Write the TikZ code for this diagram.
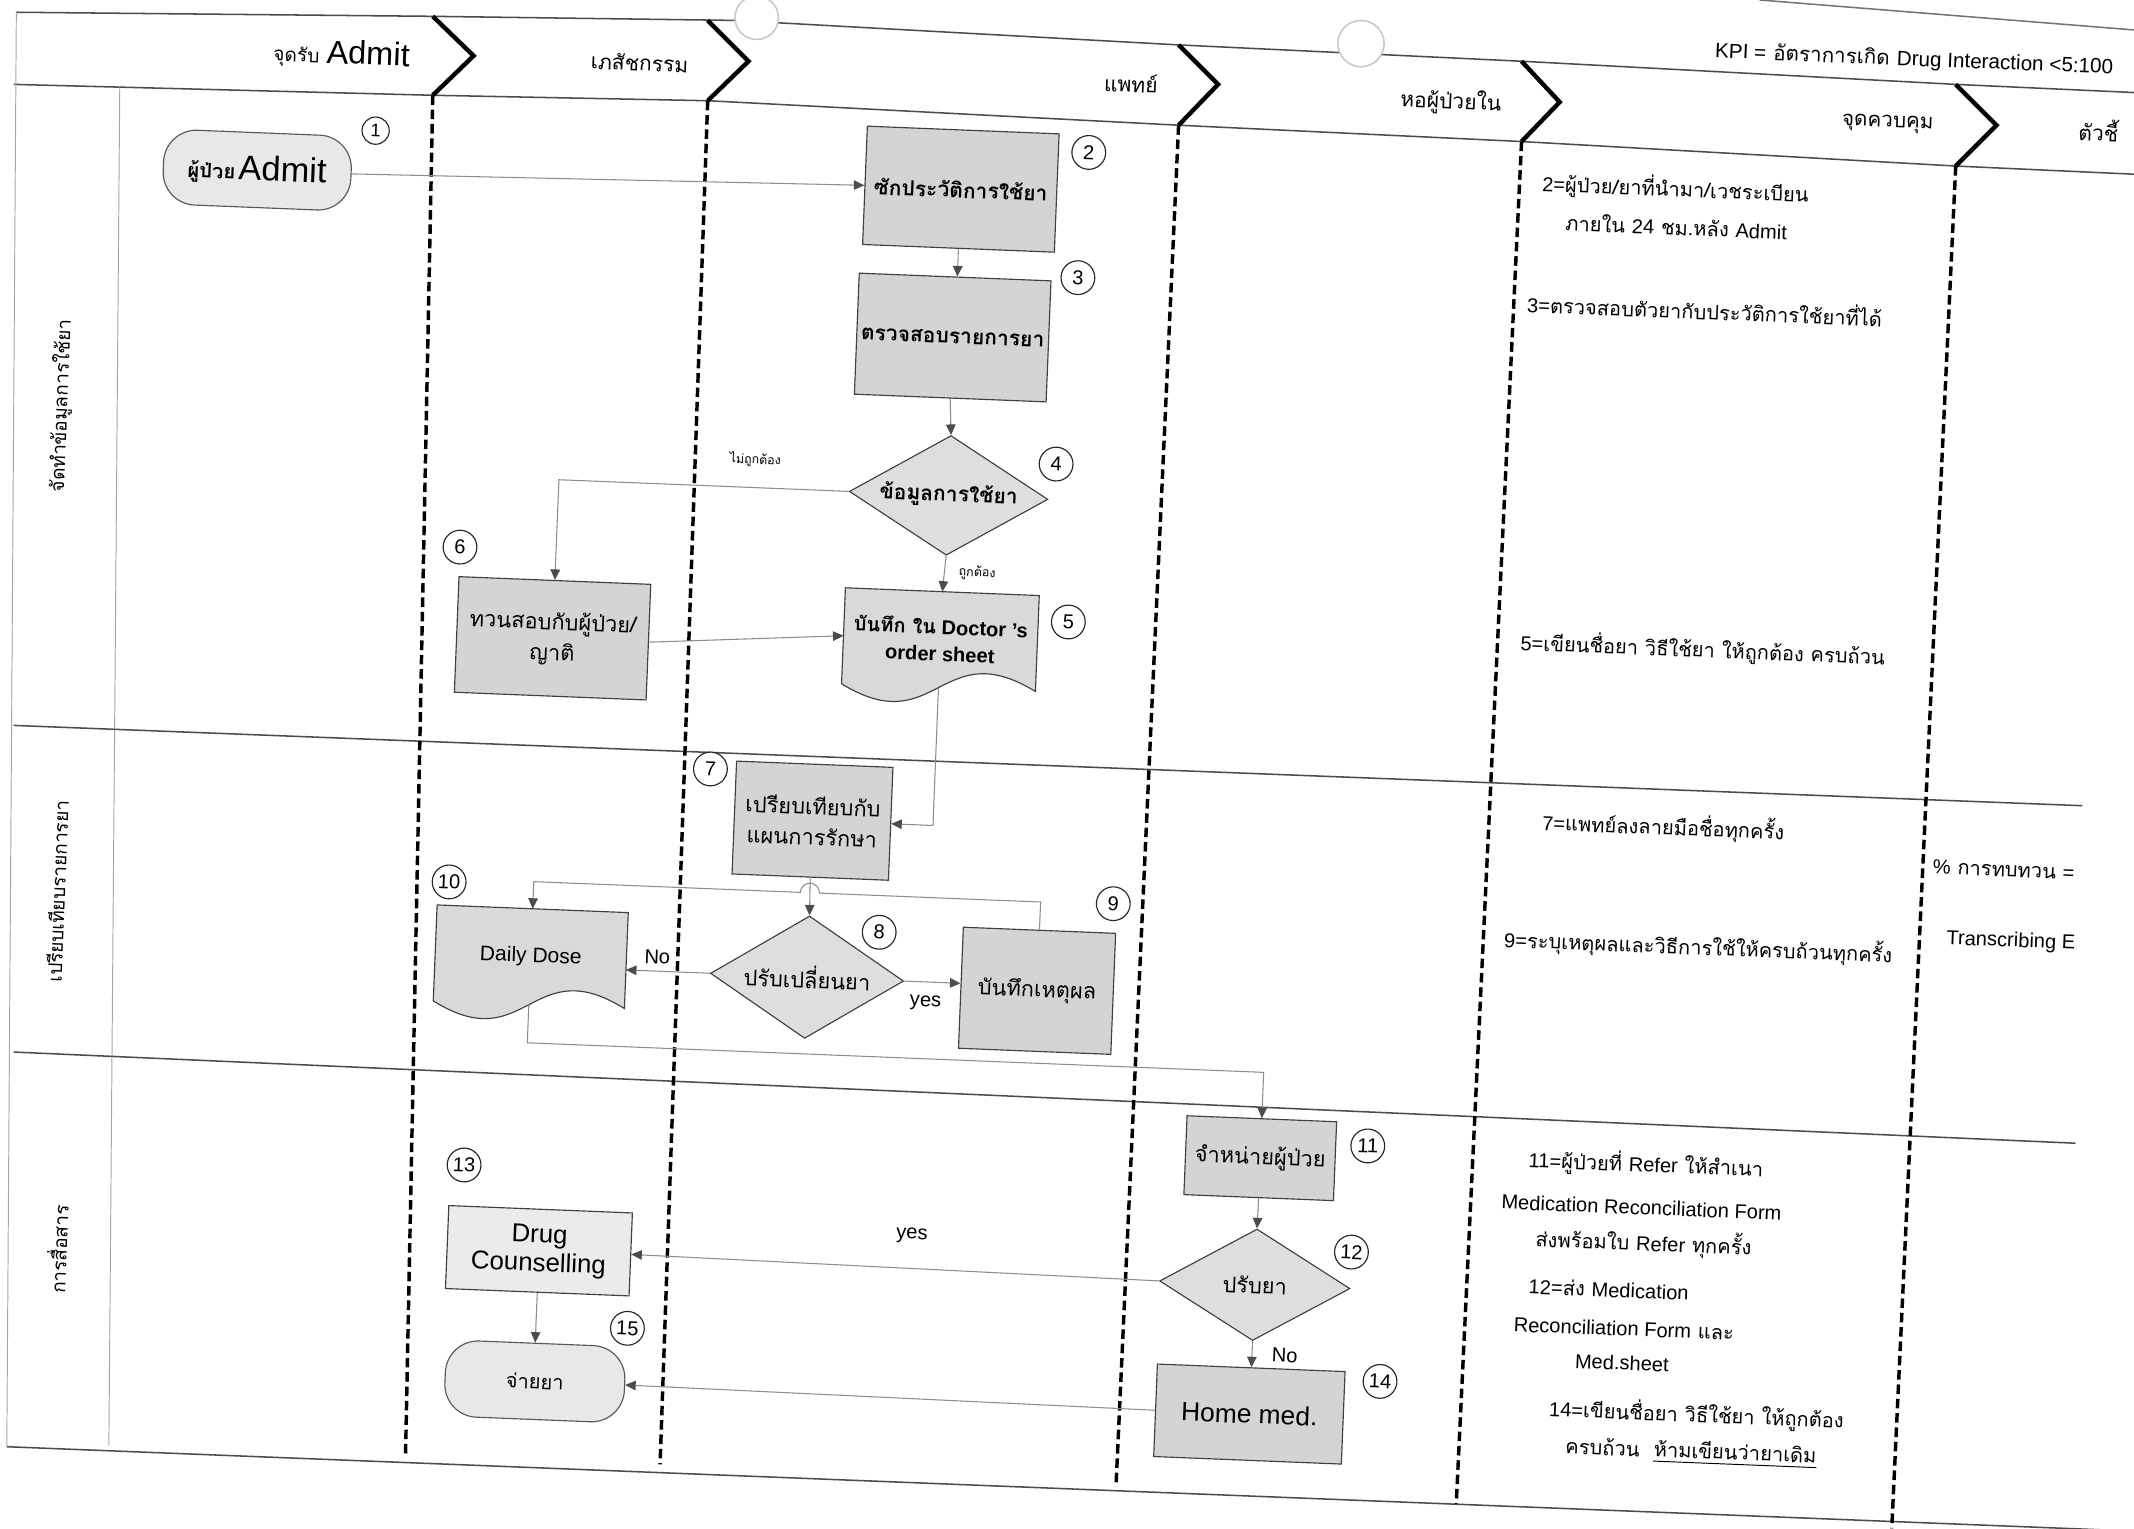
\documentclass[tikz,border=0pt]{standalone}
\usepackage{fontspec}
\setmainfont{Liberation Sans}
\newfontfamily\thai[Script=Thai]{Loma}
\usetikzlibrary{arrows.meta,calc,shapes.geometric}
\pgfdeclarelayer{bg}
\pgfsetlayers{bg,main}
\newcommand\ltn[1]{{\rmfamily #1}}
\begin{document}
\begin{tikzpicture}[x=0.25mm,y=-0.25mm,
  lane/.style={draw=black!70,line width=0.8pt},
  thinv/.style={draw=black!35,line width=0.5pt},
  vdash/.style={draw=black,line width=1.8pt,dash pattern=on 5pt off 2.5pt},
  chev/.style={draw=black,line width=2.3pt,line join=miter},
  hole/.style={draw=black!22,fill=white,line width=0.8pt},
  sz/.style 2 args={minimum width=#1*0.25mm,minimum height=#2*0.25mm},
  tilt/.style={rotate=-2.3},
  proc/.style={draw=black!75,fill=black!17,line width=0.6pt,inner sep=0pt,align=center},
  term/.style={proc,fill=black!9,draw=black!65,rounded corners=6mm},
  dec/.style={diamond,draw=black!75,fill=black!13,line width=0.6pt,inner sep=0pt,shape aspect=1.6},
  docn/.style={inner sep=0pt,align=center},
  docf/.style={draw=black!75,fill=black!15,line width=0.6pt},
  num/.style={circle,draw=black!85,fill=white,line width=0.6pt,inner sep=0pt,minimum size=6.2mm,font=\fontsize{10.5}{10}\selectfont},
  flow/.style={draw=black!45,line width=0.55pt,-{Triangle[length=5.5pt,width=5pt,color=black!70]}},
  note/.style={anchor=west,inner sep=0pt,font=\thai\fontsize{10.5}{12}\selectfont},
  hdr/.style={inner sep=0pt,font=\thai\fontsize{11}{12}\selectfont},
  lbl/.style={inner sep=1pt,font=\fontsize{10.5}{11}\selectfont},
  smallt/.style={inner sep=1pt,font=\thai\fontsize{6.5}{7}\selectfont},
  bt/.style={font=\thai\bfseries\fontsize{11}{13}\selectfont},
  mt/.style={font=\thai\fontsize{11.4}{16}\selectfont},
]
\begin{pgfonlayer}{bg}
\fill[white] (0,0) rectangle (1568,1123);
\end{pgfonlayer}
\useasboundingbox (0,0) rectangle (1568,1123);

% ---- frame and lanes
\draw[lane] (12,9) -- (318,12) -- (540,15) -- (866,33) -- (1118,45) -- (1437,62) -- (1568,68);
\draw[lane,draw=black!55] (1293,0) -- (1568,22);
\draw[lane] (10,62) -- (318,70) -- (520,74) -- (866,92) -- (1118,104) -- (1437,122) -- (1568,128);
\draw[thinv] (12,9) -- (5,1063);
\draw[thinv] (88,64) -- (80,1062);
\draw[lane] (10,533) -- (1530,592);
\draw[lane] (10,773) -- (1525,840);
\draw[lane] (5,1063) -- (1568,1125);

\draw[vdash] (318,70) -- (298,1068);
\draw[vdash] (520,74) -- (485,1076);
\draw[vdash] (866,92) -- (820,1092);
\draw[vdash] (1118,104) -- (1070,1105);
\draw[vdash] (1437,122) -- (1390,1123);

\draw[chev] (318,12) -- (348,41) -- (318,70);
\draw[chev] (520,15) -- (550,45) -- (520,74);
\draw[chev] (866,33) -- (895,62) -- (866,92);
\draw[chev] (1118,45) -- (1146,75) -- (1118,104);
\draw[chev] (1437,62) -- (1467,92) -- (1437,122);

\draw[hole] (556,13) circle[radius=16];
\draw[hole] (1000,32) circle[radius=17];

% ---- header texts
\node[hdr,tilt] (h1) at (251,40) {{\fontsize{10}{10}\selectfont จุดรับ} {\rmfamily\fontsize{17}{17}\selectfont Admit}};
\node[hdr,tilt] (h2) at (470,46) {เภสัชกรรม};
\node[hdr,tilt] (h3) at (831,61) {แพทย์};
\node[hdr,tilt,font=\thai\fontsize{11}{12}\selectfont] (h4) at (1066,75) {หอผู้ป่วยใน};
\node[hdr,tilt,font=\thai\fontsize{10.8}{12}\selectfont] (h5) at (1387,91) {จุดควบคุม};
\node[hdr,tilt,anchor=west] (h6) at (1527,95) {ตัวชี้};
\node[note,tilt,font=\thai\fontsize{10.8}{12}\selectfont] (kpi) at (1260,38) {\ltn{KPI =} อัตราการเกิด \ltn{Drug Interaction <5:100}};

% ---- lane labels
\node[hdr,rotate=87.7,font=\thai\fontsize{10}{11}\selectfont] (s1) at (45,298) {จัดทำข้อมูลการใช้ยา};
\node[hdr,rotate=87.7,font=\thai\fontsize{10}{11}\selectfont] (s2) at (42,655) {เปรียบเทียบรายการยา};
\node[hdr,rotate=87.7,font=\thai\fontsize{10}{11}\selectfont] (s3) at (42,918) {การสื่อสาร};

% ---- flow nodes
\node[term,tilt,sz={138}{55}] (n1) at (189,125) {{\thai\bfseries\fontsize{10.5}{10}\selectfont ผู้ป่วย}\,{\fontsize{18}{18}\selectfont Admit}};
\node[proc,tilt,sz={141}{87},bt] (n2) at (706,139) {ซักประวัติการใช้ยา};
\node[proc,tilt,sz={141}{89},bt] (n3) at (700,248) {ตรวจสอบรายการยา};
\node[dec,tilt,sz={146}{88},bt] (n4) at (697,364) {ข้อมูลการใช้ยา};
\node[docn,tilt,sz={142}{70},font=\bfseries\fontsize{10.5}{14}\selectfont] (n5) at (691,470) {{\thai บันทึก ใน} Doctor 's\\order sheet};
\node[proc,tilt,sz={141}{85},mt] (n6) at (406,469) {ทวนสอบกับผู้ป่วย/\\ญาติ};
\node[proc,tilt,sz={115}{83},mt] (n7) at (597,603) {เปรียบเทียบกับ\\แผนการรักษา};
\node[dec,tilt,sz={142}{90},mt] (n8) at (593,718) {ปรับเปลี่ยนยา};
\node[proc,tilt,sz={112}{89},mt] (n9) at (762,728) {บันทึกเหตุผล};
\node[docn,tilt,sz={140}{70},font=\fontsize{11}{12}\selectfont] (n10) at (390,703) {Daily Dose};
\node[proc,tilt,sz={110}{58},mt] (n11) at (926,851) {จำหน่ายผู้ป่วย};
\node[dec,tilt,sz={140}{82},mt] (n12) at (922,944) {ปรับยา};
\node[proc,tilt,sz={135}{61},fill=black!8,font=\fontsize{13.5}{15}\selectfont] (n13) at (396,919) {Drug\\Counselling};
\node[proc,tilt,sz={138}{68},font=\fontsize{13.8}{15}\selectfont] (n14) at (918,1039) {Home med.};
\node[term,tilt,sz={132}{56},font=\thai\fontsize{10.5}{12}\selectfont] (n15) at (393,1015) {จ่ายยา};

% ---- numbers
\node[num,tilt,minimum size=5mm,font=\fontsize{9.5}{9}\selectfont] (c1) at (276,96) {1};
\node[num,tilt] (c2) at (800,112) {2};
\node[num,tilt] (c3) at (792,204) {3};
\node[num,tilt] (c4) at (776,341) {4};
\node[num,tilt] (c5) at (785,457) {5};
\node[num,tilt] (c6) at (338,402) {6};
\node[num,tilt] (c7) at (522,565) {7};
\node[num,tilt] (c8) at (646,685) {8};
\node[num,tilt] (c9) at (818,664) {9};
\node[num,tilt] (c10) at (330,648) {10};
\node[num,tilt] (c11) at (1005,842) {11};
\node[num,tilt] (c12) at (993,920) {12};
\node[num,tilt] (c13) at (341,856) {13};
\node[num,tilt] (c14) at (1014,1015) {14};
\node[num,tilt] (c15) at (461,976) {15};

% ---- connector labels
\node[smallt,tilt] (l4no) at (555,338) {ไม่ถูกต้อง};
\node[smallt,tilt] (l4yes) at (718,421) {ถูกต้อง};
\node[lbl,tilt] (l8no) at (483,703) {No};
\node[lbl,tilt] (l8yes) at (680,737) {yes};
\node[lbl,tilt] (l12yes) at (670,908) {yes};
\node[lbl,tilt] (l12no) at (944,996) {No};

% ---- notes
\node[note,tilt] (t2a) at (1133,135) {\ltn{2=}ผู้ป่วย/ยาที่นำมา/เวชระเบียน};
\node[note,tilt] (t2b) at (1150,163) {ภายใน \ltn{24} ชม.หลัง \ltn{Admit}};
\node[note,tilt] (t3) at (1122,222) {\ltn{3=}ตรวจสอบตัวยากับประวัติการใช้ยาที่ได้};
\node[note,tilt] (t5) at (1117,472) {\ltn{5=}เขียนชื่อยา วิธีใช้ยา ให้ถูกต้อง ครบถ้วน};
\node[note,tilt] (t7) at (1133,604) {\ltn{7=}แพทย์ลงลายมือชื่อทุกครั้ง};
\node[note,tilt] (t9) at (1105,690) {\ltn{9=}ระบุเหตุผลและวิธีการใช้ให้ครบถ้วนทุกครั้ง};
\node[note,tilt] (t11a) at (1123,852) {\ltn{11=}ผู้ป่วยที่ \ltn{Refer} ให้สำเนา};
\node[note,tilt] (t11b) at (1103,883) {\ltn{Medication Reconciliation Form}};
\node[note,tilt] (t11c) at (1128,910) {ส่งพร้อมใบ \ltn{Refer} ทุกครั้ง};
\node[note,tilt] (t12a) at (1123,945) {\ltn{12=}ส่ง \ltn{Medication}};
\node[note,tilt] (t12b) at (1112,973) {\ltn{Reconciliation Form} และ};
\node[note,tilt] (t12c) at (1157,1000) {\ltn{Med.sheet}};
\node[note,tilt] (t14a) at (1138,1035) {\ltn{14=}เขียนชื่อยา วิธีใช้ยา ให้ถูกต้อง};
\node[note,tilt] (t14b) at (1150,1062) {ครบถ้วน};
\node[note,tilt] (t14c) at (1215,1064) {ห้ามเขียนว่ายาเดิม};
\node[note,tilt] (k1) at (1420,637) {\ltn{\%} การทบทวน \ltn{=}};
\node[note,tilt] (k2) at (1430,690) {\ltn{Transcribing E}};

% ---- document shapes and connectors (in the tilted frame)
\begin{scope}[rotate=-2.3]
\begin{pgfonlayer}{bg}
\path[docf] (n5.north west) -- (n5.north east) -- (n5.south east)
  .. controls ($(n5.south)+(0,-40)$) and ($(n5.south)+(0,40)$) .. (n5.south west) -- cycle;
\path[docf] (n10.north west) -- (n10.north east) -- (n10.south east)
  .. controls ($(n10.south)+(0,-40)$) and ($(n10.south)+(0,40)$) .. (n10.south west) -- cycle;
\end{pgfonlayer}
\draw[black,line width=0.5pt] ($(t14c.south west)+(0,3)$) -- ($(t14c.south east)+(0,3)$);
\draw[flow] (n1.east) -- (n2.west);
\draw[flow] (n2.south) -- (n2.south |- n3.north);
\draw[flow] (n3.south) -- (n4.north);
\draw[flow] (n4.south) -- (n5.north);
\draw[flow] (n4.west) -| (n6.north);
\draw[flow] (n6.east) -- (n5.west);
\draw[flow] (n5.south) |- (n7.east);
\draw[flow] (n7.south) -- (n8.north);
\coordinate (j) at ($(n7.south)!0.4!(n8.north)$);
\draw[flow] (n9.north) |- ($(j)+(7,0)$) arc[start angle=0,end angle=-180,radius=7] -| (n10.north);
\draw[flow] (n8.west) -- (n8.west -| n10.east);
\draw[flow] (n8.east) -- (n8.east -| n9.west);
\draw[flow] (n10.south) -- ++(0,28) -| (n11.north);
\draw[flow] (n11.south) -- (n12.north);
\draw[flow] (n12.west) -- (n13.east);
\draw[flow] (n12.south) -- (n12.south |- n14.north);
\draw[flow] (n13.south) -- (n13.south |- n15.north);
\draw[flow] (n14.west) -- (n15.east);
\end{scope}
\end{tikzpicture}
\end{document}
